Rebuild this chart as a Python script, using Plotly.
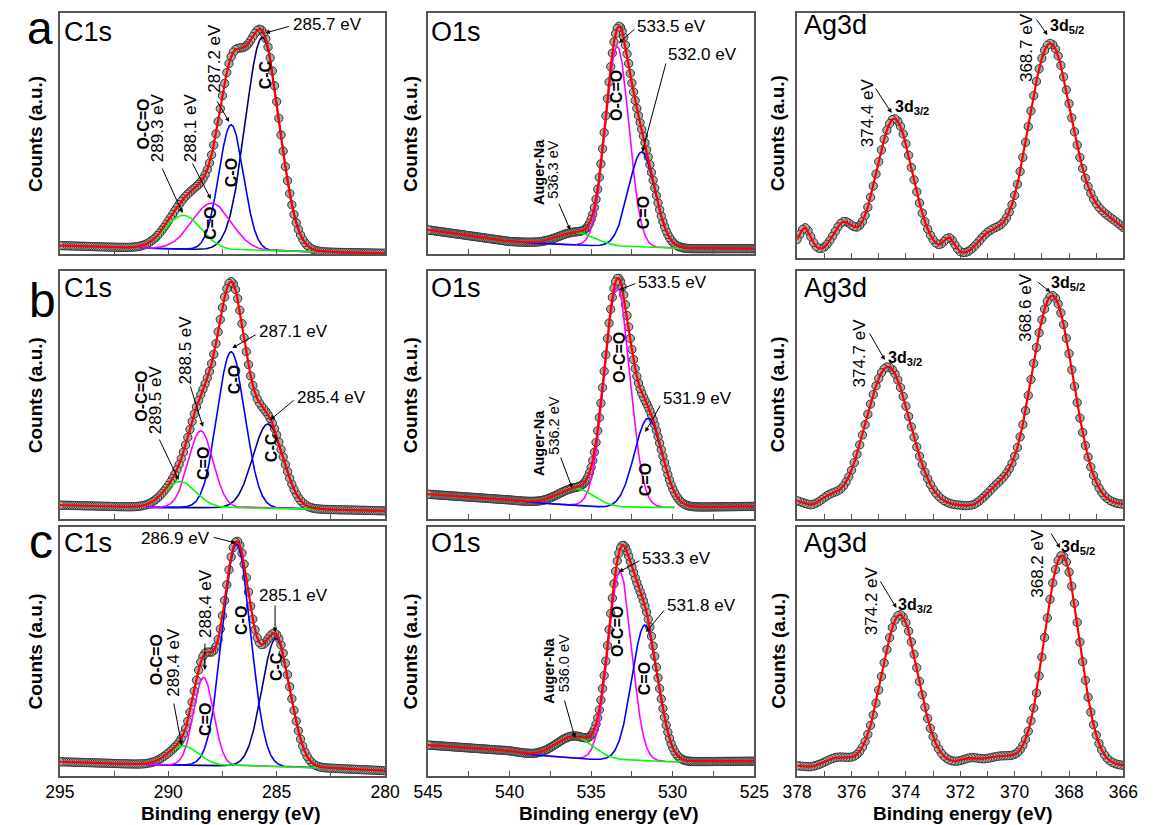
import numpy as np
import plotly.graph_objects as go

FIG_W, FIG_H = 1155, 825
FONT = "Arial, 'Liberation Sans', sans-serif"

# ---------------- axes ----------------
C1S_RANGE = [295, 280]
O1S_RANGE = [545, 525]
AG_RANGE = [378, 366]
C1S_TICKS = [295, 290, 285, 280]
O1S_TICKS = [545, 540, 535, 530, 525]
AG_TICKS = [378, 376, 374, 372, 370, 368, 366]
C1S_TICKTEXT = ["295", "290", "285", "280"]
O1S_TICKTEXT = ["545", "540", "535", "530", "525"]
AG_TICKTEXT = ["378", "376", "374", "372", "370", "368", "366"]
C1S_MINOR = [292.5, 287.5, 282.5]
O1S_MINOR = [542.5, 537.5, 532.5, 527.5]
AG_MINOR = [377, 375, 373, 371, 369, 367]

# ---------------- C1s (components: C-C, C-O, C=O, O-C=O) ----------------
C1S_NAMES = ["C-C", "C-O", "C=O", "O-C=O"]
C1S_A_CENTER = [285.66, 287.10, 288.00, 289.30]
C1S_A_HEIGHT = [0.885, 0.52, 0.193, 0.14]
C1S_A_SIGMA = [0.78, 0.57, 0.90, 0.83]
C1S_A_EXTRA_CENTER = []
C1S_A_EXTRA_HEIGHT = []
C1S_A_EXTRA_SIGMA = []
C1S_A_BG_EV = [295, 291, 284, 280]
C1S_A_BG = [0.035, 0.024, 0.010, 0.003]
C1S_A_DRAW = [283.2, 291.3]

C1S_B_CENTER = [285.40, 287.10, 288.50, 289.45]
C1S_B_HEIGHT = [0.34, 0.63, 0.31, 0.105]
C1S_B_SIGMA = [0.70, 0.64, 0.57, 0.73]
C1S_B_EXTRA_CENTER = [287.10]
C1S_B_EXTRA_HEIGHT = [0.25]
C1S_B_EXTRA_SIGMA = [0.75]
C1S_B_BG_EV = [295, 291, 286, 280]
C1S_B_BG = [0.054, 0.045, 0.043, 0.031]
C1S_B_DRAW = [283.0, 291.0]

C1S_C_CENTER = [285.03, 286.85, 288.37, 289.30]
C1S_C_HEIGHT = [0.515, 0.89, 0.353, 0.077]
C1S_C_SIGMA = [0.65, 0.65, 0.46, 0.70]
C1S_C_EXTRA_CENTER = []
C1S_C_EXTRA_HEIGHT = []
C1S_C_EXTRA_SIGMA = []
C1S_C_BG_EV = [295, 291, 286, 282.5, 280]
C1S_C_BG = [0.056, 0.045, 0.038, 0.030, 0.020]
C1S_C_DRAW = [282.9, 291.0]

# ---------------- O1s (components: O-C=O, C=O, Auger-Na) ----------------
O1S_NAMES = ["O-C=O", "C=O", "Auger-Na"]
O1S_A_CENTER = [533.40, 531.90, 535.90]
O1S_A_HEIGHT = [0.83, 0.395, 0.053]
O1S_A_SIGMA = [0.72, 0.81, 1.10]
O1S_A_BG_EV = [545, 540, 537, 533, 529, 525]
O1S_A_BG = [0.100, 0.052, 0.040, 0.030, 0.022, 0.022]
O1S_A_DRAW = [529.3, 540.0]

O1S_B_CENTER = [533.40, 531.50, 535.90]
O1S_B_HEIGHT = [0.89, 0.36, 0.068]
O1S_B_SIGMA = [0.78, 0.85, 1.10]
O1S_B_BG_EV = [545, 540, 538, 534, 530, 525]
O1S_B_BG = [0.098, 0.075, 0.062, 0.045, 0.045, 0.049]
O1S_B_DRAW = [529.9, 540.0]

O1S_C_CENTER = [533.24, 531.70, 536.00]
O1S_C_HEIGHT = [0.755, 0.545, 0.088]
O1S_C_SIGMA = [0.72, 0.80, 1.10]
O1S_C_BG_EV = [545, 540, 538.5, 535, 530, 525]
O1S_C_BG = [0.123, 0.100, 0.083, 0.066, 0.056, 0.058]
O1S_C_DRAW = [529.5, 539.5]

# ---------------- Ag3d (3d3/2, 3d5/2 + small features) ----------------
AG_A_CENTER = [374.42, 368.70]
AG_A_HEIGHT = [0.54, 0.85]
AG_A_SIGMA = [0.65, 0.80]
AG_A_SAT_CENTER = [377.70, 376.30, 372.40, 370.90, 366.60]
AG_A_SAT_HEIGHT = [0.08, 0.11, 0.06, 0.08, 0.12]
AG_A_SAT_SIGMA = [0.20, 0.35, 0.20, 0.45, 0.80]
AG_A_BG_EV = [378, 377.1, 375, 373, 371.7, 369.5, 366]
AG_A_BG = [0.05, 0.03, 0.03, 0.025, 0.01, 0.02, 0.03]

AG_B_CENTER = [374.66, 368.62]
AG_B_HEIGHT = [0.563, 0.85]
AG_B_SIGMA = [0.81, 0.77]
AG_B_SAT_CENTER = [376.80, 370.60]
AG_B_SAT_HEIGHT = [0.03, 0.07]
AG_B_SAT_SIGMA = [0.30, 0.50]
AG_B_BG_EV = [378, 377.5, 375, 372, 371.5, 369, 366]
AG_B_BG = [0.072, 0.052, 0.05, 0.05, 0.042, 0.05, 0.055]

AG_C_CENTER = [374.22, 368.26]
AG_C_HEIGHT = [0.60, 0.84]
AG_C_SIGMA = [0.66, 0.64]
AG_C_SAT_CENTER = [376.50, 371.60, 370.50]
AG_C_SAT_HEIGHT = [0.035, 0.02, 0.03]
AG_C_SAT_SIGMA = [0.45, 0.30, 0.50]
AG_C_BG_EV = [378, 377.5, 375, 372, 369, 366]
AG_C_BG = [0.04, 0.033, 0.045, 0.05, 0.045, 0.04]

C1S_COLORS = ["#000080", "#0000ff", "#ff00ff", "#00ff00"]
O1S_COLORS = ["#ff00ff", "#0000ff", "#00ff00"]

# ---------------- layout geometry (pixels) ----------------
COL_X = [(46, 380), (424, 759), (803, 1138)]
ROW_Y = [(13, 254), (271, 518.5), (526.5, 775.7)]


def gauss(x, c, h, s):
    return h * np.exp(-0.5 * ((x - c) / s) ** 2)


def background(x, ev, val):
    order = np.argsort(ev)
    return np.interp(x, np.asarray(ev, float)[order], np.asarray(val, float)[order])


panels = [
    dict(kind="C1s", comp=(C1S_A_CENTER, C1S_A_HEIGHT, C1S_A_SIGMA),
         extra=(C1S_A_EXTRA_CENTER, C1S_A_EXTRA_HEIGHT, C1S_A_EXTRA_SIGMA),
         bg=(C1S_A_BG_EV, C1S_A_BG), draw=C1S_A_DRAW),
    dict(kind="O1s", comp=(O1S_A_CENTER, O1S_A_HEIGHT, O1S_A_SIGMA),
         extra=([], [], []), bg=(O1S_A_BG_EV, O1S_A_BG), draw=O1S_A_DRAW),
    dict(kind="Ag", comp=(AG_A_CENTER, AG_A_HEIGHT, AG_A_SIGMA),
         extra=(AG_A_SAT_CENTER, AG_A_SAT_HEIGHT, AG_A_SAT_SIGMA),
         bg=(AG_A_BG_EV, AG_A_BG), draw=None),
    dict(kind="C1s", comp=(C1S_B_CENTER, C1S_B_HEIGHT, C1S_B_SIGMA),
         extra=(C1S_B_EXTRA_CENTER, C1S_B_EXTRA_HEIGHT, C1S_B_EXTRA_SIGMA),
         bg=(C1S_B_BG_EV, C1S_B_BG), draw=C1S_B_DRAW),
    dict(kind="O1s", comp=(O1S_B_CENTER, O1S_B_HEIGHT, O1S_B_SIGMA),
         extra=([], [], []), bg=(O1S_B_BG_EV, O1S_B_BG), draw=O1S_B_DRAW),
    dict(kind="Ag", comp=(AG_B_CENTER, AG_B_HEIGHT, AG_B_SIGMA),
         extra=(AG_B_SAT_CENTER, AG_B_SAT_HEIGHT, AG_B_SAT_SIGMA),
         bg=(AG_B_BG_EV, AG_B_BG), draw=None),
    dict(kind="C1s", comp=(C1S_C_CENTER, C1S_C_HEIGHT, C1S_C_SIGMA),
         extra=(C1S_C_EXTRA_CENTER, C1S_C_EXTRA_HEIGHT, C1S_C_EXTRA_SIGMA),
         bg=(C1S_C_BG_EV, C1S_C_BG), draw=C1S_C_DRAW),
    dict(kind="O1s", comp=(O1S_C_CENTER, O1S_C_HEIGHT, O1S_C_SIGMA),
         extra=([], [], []), bg=(O1S_C_BG_EV, O1S_C_BG), draw=O1S_C_DRAW),
    dict(kind="Ag", comp=(AG_C_CENTER, AG_C_HEIGHT, AG_C_SIGMA),
         extra=(AG_C_SAT_CENTER, AG_C_SAT_HEIGHT, AG_C_SAT_SIGMA),
         bg=(AG_C_BG_EV, AG_C_BG), draw=None),
]

AXIS_INFO = {
    "C1s": (C1S_RANGE, C1S_TICKS, C1S_TICKTEXT, C1S_MINOR),
    "O1s": (O1S_RANGE, O1S_TICKS, O1S_TICKTEXT, O1S_MINOR),
    "Ag": (AG_RANGE, AG_TICKS, AG_TICKTEXT, AG_MINOR),
}

fig = go.Figure()
layout = dict(
    width=FIG_W, height=FIG_H, autosize=False,
    margin=dict(l=0, r=0, t=0, b=0),
    paper_bgcolor="white", plot_bgcolor="white",
    showlegend=False, font=dict(family=FONT, color="black"),
)

LINE_COL = "#555555"

for i, p in enumerate(panels):
    k = i + 1
    row, col = divmod(i, 3)
    xs_ref = "x" if k == 1 else f"x{k}"
    ys_ref = "y" if k == 1 else f"y{k}"
    rng, ticks, ticktext, minor = AXIS_INFO[p["kind"]]
    x0, x1 = COL_X[col]
    y0, y1 = ROW_Y[row]
    if p["kind"] == "Ag" and row == 0:
        y1 = 258
    layout["xaxis" if k == 1 else f"xaxis{k}"] = dict(
        domain=[x0 / FIG_W, x1 / FIG_W], range=rng, autorange=False,
        anchor=ys_ref, showgrid=False, zeroline=False,
        showline=True, linecolor=LINE_COL, linewidth=1.5, mirror=True,
        ticks="inside", ticklen=5, tickwidth=1.2, tickcolor=LINE_COL,
        tickvals=ticks, ticktext=ticktext, showticklabels=(row == 2),
        tickfont=dict(size=17.5, family=FONT, color="black"),
        minor=dict(tickvals=minor, ticks="inside", ticklen=5, tickwidth=1.2, tickcolor=LINE_COL),
    )
    layout["yaxis" if k == 1 else f"yaxis{k}"] = dict(
        domain=[1 - y1 / FIG_H, 1 - y0 / FIG_H], range=[0, 1], autorange=False,
        anchor=xs_ref, showgrid=False, zeroline=False, showticklabels=False,
        ticks="", showline=True, linecolor=LINE_COL, linewidth=1.5, mirror=True,
    )

    lo, hi = min(rng), max(rng)
    xm = np.round(np.arange(lo, hi + 1e-9, 0.1), 3)
    xf = np.linspace(lo, hi, 1200)
    cen, hei, sig = p["comp"]
    ecen, ehei, esig = p["extra"]
    bev, bval = p["bg"]

    def envelope(x):
        y = background(x, bev, bval)
        for c, h, s in zip(cen, hei, sig):
            y = y + gauss(x, c, h, s)
        for c, h, s in zip(ecen, ehei, esig):
            y = y + gauss(x, c, h, s)
        return y

    # measured points
    fig.add_trace(go.Scatter(
        x=xm, y=envelope(xm), mode="markers", xaxis=xs_ref, yaxis=ys_ref,
        marker=dict(size=8.3, color="#ababab", line=dict(color="#333333", width=1)),
        hoverinfo="skip"))

    # fitted components
    if p["draw"] is not None:
        colors = C1S_COLORS if p["kind"] == "C1s" else O1S_COLORS
        xc = np.linspace(p["draw"][0], p["draw"][1], 500)
        bgc = background(xc, bev, bval)
        for c, h, s, colr in zip(cen, hei, sig, colors):
            fig.add_trace(go.Scatter(
                x=xc, y=bgc + gauss(xc, c, h, s), mode="lines", xaxis=xs_ref, yaxis=ys_ref,
                line=dict(color=colr, width=1.6), hoverinfo="skip"))

    # envelope
    fig.add_trace(go.Scatter(
        x=xf, y=envelope(xf), mode="lines", xaxis=xs_ref, yaxis=ys_ref,
        line=dict(color="#ff0000", width=2.2), hoverinfo="skip"))


def PX(x):
    return x / FIG_W


def PY(y):
    return 1 - y / FIG_H


ann = []


def text(t, x, y, angle=0, size=16.5, bold=False, xanchor="center", yanchor="middle"):
    ann.append(dict(
        text=f"<b>{t}</b>" if bold else t, x=PX(x), y=PY(y), xref="paper", yref="paper",
        showarrow=False, textangle=angle, xanchor=xanchor, yanchor=yanchor,
        font=dict(family=FONT, size=size, color="black")))


def arrow(sx, sy, tx, ty):
    ann.append(dict(
        text="", x=PX(tx), y=PY(ty), xref="paper", yref="paper",
        ax=sx - tx, ay=sy - ty, axref="pixel", ayref="pixel", showarrow=True,
        arrowhead=2, arrowsize=0.9, arrowwidth=1, arrowcolor="black"))


# panel letters
text("a", 26, 0, size=46, yanchor="top")
text("b", 28, 300, size=48)
text("c", 27, 541, size=48)

# panel titles
for y, yt in [(32, 25), (288, 288), (543, 543)]:
    text("C1s", 48, y, size=27, xanchor="left")
    text("O1s", 425, y, size=27, xanchor="left")
    text("Ag3d", 808, yt, size=27, xanchor="left")

# y titles
for (ya, yb) in [ROW_Y[0], ROW_Y[1], ROW_Y[2]]:
    yc = (ya + yb) / 2
    for xc in (21, 406, 783):
        text("Counts (a.u.)", xc, yc, angle=-90, size=19, bold=True)

# x titles
for xc in (221, 609, 973):
    text("Binding energy (eV)", xc, 813, size=19, bold=True)

EV = 17
BL = 16
AU = 14.5

# ---- row a ----
text("285.7 eV", 283, 25, size=EV, xanchor="left"); arrow(282, 26, 257, 33)
text("287.2 eV", 204, 58, angle=-90, size=EV); arrow(207, 100, 220, 122)
text("288.1 eV", 180, 128, angle=-90, size=EV); arrow(182, 162, 201, 199)
text("O-C=O", 132, 124, angle=-90, size=BL, bold=True)
text("289.3 eV", 146, 128, angle=-90, size=EV); arrow(151, 167, 172, 213)
text("C-O", 222, 173, angle=-90, size=BL, bold=True)
text("C-C", 257, 75, angle=-90, size=BL, bold=True)
text("C=O", 201, 223, angle=-90, size=BL, bold=True)

text("533.5 eV", 637, 27, size=EV, xanchor="left"); arrow(637, 28, 620, 43)
text("O-C=O", 618, 95, angle=-90, size=BL, bold=True)
text("532.0 eV", 668, 55, size=EV, xanchor="left"); arrow(668, 62, 644, 152)
text("C=O", 645, 213, angle=-90, size=BL, bold=True)
text("Auger-Na", 538, 172, angle=-90, size=AU, bold=True)
text("536.3 eV", 552, 170, angle=-90, size=AU)
arrow(558, 202, 570, 230)

text("374.4 eV", 875, 113, angle=-90, size=EV)
text("3d<sub>3/2</sub>", 901, 108, size=BL, bold=True, xanchor="left"); arrow(883, 87, 900, 113)
text("368.7 eV", 1038, 48, angle=-90, size=EV)
text("3d<sub>5/2</sub>", 1061, 27, size=BL, bold=True, xanchor="left"); arrow(1048, 18, 1060, 35)

# ---- row b ----
text("287.1 eV", 248, 332, size=EV, xanchor="left"); arrow(248, 334, 223, 348)
text("285.4 eV", 287, 397, size=EV, xanchor="left"); arrow(287, 399, 262, 420)
text("288.5 eV", 175, 350, angle=-90, size=EV); arrow(180, 385, 193, 427)
text("O-C=O", 129, 396, angle=-90, size=BL, bold=True)
text("289.5 eV", 144, 400, angle=-90, size=EV); arrow(148, 438, 168, 480)
text("C-O", 225, 380, angle=-90, size=BL, bold=True)
text("C-C", 263, 448, angle=-90, size=BL, bold=True)
text("C=O", 194, 463, angle=-90, size=BL, bold=True)

text("533.5 eV", 638, 282, size=EV, xanchor="left"); arrow(638, 283, 620, 290)
text("O-C=O", 620, 357, angle=-90, size=BL, bold=True)
text("531.9 eV", 663, 398, size=EV, xanchor="left"); arrow(663, 404, 647, 432)
text("C=O", 647, 480, angle=-90, size=BL, bold=True)
text("Auger-Na", 538, 443, angle=-90, size=AU, bold=True)
text("536.2 eV", 553, 426, angle=-90, size=AU)
arrow(560, 456, 572, 488)

text("374.7 eV", 867, 353, angle=-90, size=EV)
text("3d<sub>3/2</sub>", 894, 358, size=BL, bold=True, xanchor="left"); arrow(877, 332, 893, 360)
text("368.6 eV", 1038, 308, angle=-90, size=EV)
text("3d<sub>5/2</sub>", 1062, 283, size=BL, bold=True, xanchor="left"); arrow(1049, 281, 1063, 292)

# ---- row c ----
text("286.9 eV", 202, 538, size=EV, xanchor="right"); arrow(203, 537, 227, 543)
text("285.1 eV", 248, 595, size=EV, xanchor="left"); arrow(267, 604, 267, 632)
text("288.4 eV", 195, 603, angle=-90, size=EV); arrow(195, 642, 195, 670)
text("O-C=O", 145, 660, angle=-90, size=BL, bold=True)
text("289.4 eV", 162, 662, angle=-90, size=EV); arrow(163, 702, 171, 745)
text("C-O", 232, 620, angle=-90, size=BL, bold=True)
text("C-C", 268, 667, angle=-90, size=BL, bold=True)
text("C=O", 195, 719, angle=-90, size=BL, bold=True)

text("533.3 eV", 642, 558, size=EV, xanchor="left"); arrow(642, 560, 620, 572)
text("O-C=O", 618, 631, angle=-90, size=BL, bold=True)
text("531.8 eV", 667, 605, size=EV, xanchor="left"); arrow(667, 609, 648, 632)
text("C=O", 646, 679, angle=-90, size=BL, bold=True)
text("Auger-Na", 548, 671, angle=-90, size=AU, bold=True)
text("536.0 eV", 564, 663, angle=-90, size=AU)
arrow(564, 699, 575, 738)

text("374.2 eV", 879, 601, angle=-90, size=EV)
text("3d<sub>3/2</sub>", 905, 605, size=BL, bold=True, xanchor="left"); arrow(888, 580, 905, 608)
text("368.2 eV", 1049, 563, angle=-90, size=EV)
text("3d<sub>5/2</sub>", 1072, 547, size=BL, bold=True, xanchor="left"); arrow(1063, 532, 1073, 548)

layout["annotations"] = ann
fig.update_layout(**layout)
fig.write_html("out.html")
